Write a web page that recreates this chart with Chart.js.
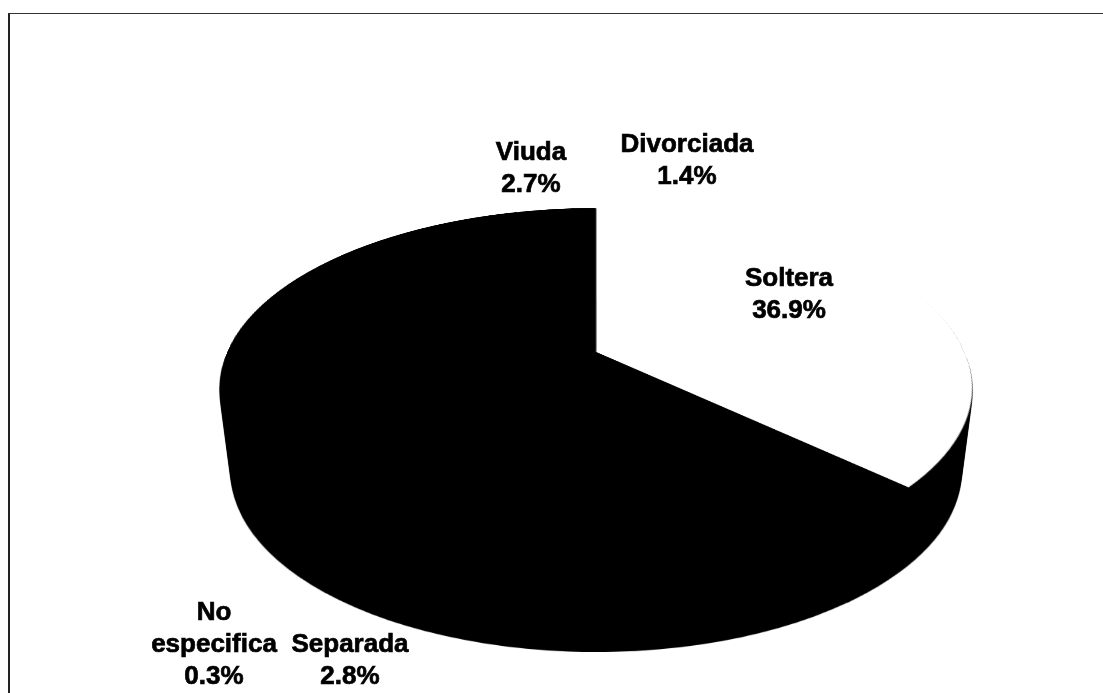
<!DOCTYPE html>
<html>
<head>
<meta charset="utf-8">
<title>Estado civil</title>
<script src="https://cdn.jsdelivr.net/npm/chart.js@4"></script>
<style>
  body { margin: 0; background: #fff; overflow: hidden; }
  #wrap { position: relative; width: 1103px; height: 693px; }
  #frame { position: absolute; left: 8px; top: 13px; right: 0; bottom: 0; border-left: 2px solid #222; border-top: 1px solid #333; }
  canvas { position: absolute; left: 0; top: 0; }
</style>
</head>
<body>
<div id="wrap">
  <div id="frame"></div>
  <canvas id="pie" width="1103" height="693"></canvas>
</div>
<script>
// clockwise from 12 o'clock. the big slice has no readable label in the scan,
// its name is a guess and its value is what is left of 100
const categories = ['Soltera', 'Separada', 'No\nespecifica', 'Casada', 'Viuda', 'Divorciada'];
const values = [36.9, 2.8, 0.3, 55.9, 2.7, 1.4];
const sliceColors = ['#ffffff', '#000000', '#000000', '#000000', '#000000', '#000000'];
const showLabel = [true, true, true, false, true, true];

// where each label goes on the page (centre of first line)
const labelPos = [[789, 279], [350, 645], [214, 613], null, [531, 153], [687, 145]];

// fake 3d: the flat pie gets a perspective warp, then a wall below it
const view = { cx: 596, cy: 352, halfWidth: 369, back: 144, front: 215, depth: 85, wallShrink: 0.03 };

function warp(src, dest) {
  // y' = a*y / (1 - k*y), so y=-1 lands on back and y=1 lands on front
  const k = (view.front - view.back) / (view.front + view.back);
  const a = view.front * (1 - k);
  const srcCx = src.width / 2;
  const srcCy = src.height / 2;
  const r = Math.min(src.width, src.height) / 2;
  for (let row = -view.back; row < view.front; row++) {
    const y = row / (a + k * row);
    const yNext = (row + 1) / (a + k * (row + 1));
    const w = view.halfWidth / (1 - k * y);
    dest.drawImage(src, srcCx - r, srcCy + y * r, 2 * r, (yNext - y) * r,
      view.cx - w, view.cy + row, 2 * w, 1);
  }
}

function newCanvas(w, h) {
  const c = document.createElement('canvas');
  c.width = w;
  c.height = h;
  return c;
}

const pie3d = {
  id: 'pie3d',
  afterDraw(chart) {
    const ctx = chart.ctx;
    const w = chart.canvas.width;
    const h = chart.canvas.height;

    // flat pie as chart.js drew it
    const flat = newCanvas(w, h);
    flat.getContext('2d').drawImage(chart.canvas, 0, 0);

    const top = newCanvas(w, h);
    warp(flat, top.getContext('2d'));

    // same outline all black for the wall
    const wall = newCanvas(w, h);
    const wallCtx = wall.getContext('2d');
    wallCtx.drawImage(top, 0, 0);
    wallCtx.globalCompositeOperation = 'source-in';
    wallCtx.fillStyle = '#000';
    wallCtx.fillRect(0, 0, w, h);

    ctx.save();
    ctx.clearRect(0, 0, w, h);
    // wall gets a bit narrower going down, the scan shows it
    for (let d = view.depth; d > 0; d--) {
      const s = 1 - view.wallShrink * d / view.depth;
      ctx.drawImage(wall, view.cx * (1 - s), d, w * s, h);
    }
    ctx.drawImage(top, 0, 0);

    // labels
    ctx.fillStyle = '#000';
    ctx.strokeStyle = '#000';
    ctx.lineWidth = 0.7;
    ctx.font = 'bold 26px "Liberation Sans", Arial, sans-serif';
    ctx.textAlign = 'center';
    ctx.textBaseline = 'middle';
    categories.forEach((name, i) => {
      if (!showLabel[i]) return;
      const lines = name.split('\n').concat(values[i].toFixed(1) + '%');
      lines.forEach((line, n) => {
        ctx.fillText(line, labelPos[i][0], labelPos[i][1] + n * 32);
        ctx.strokeText(line, labelPos[i][0], labelPos[i][1] + n * 32);
      });
    });
    ctx.restore();
  },
};

const pieChart = new Chart(document.getElementById('pie'), {
  type: 'pie',
  data: {
    labels: categories,
    datasets: [{ data: values, backgroundColor: sliceColors, borderWidth: 0 }],
  },
  options: {
    responsive: false,
    devicePixelRatio: 1,
    animation: false,
    events: [],
    plugins: { legend: { display: false }, tooltip: { enabled: false } },
  },
  plugins: [pie3d],
});
</script>
</body>
</html>
